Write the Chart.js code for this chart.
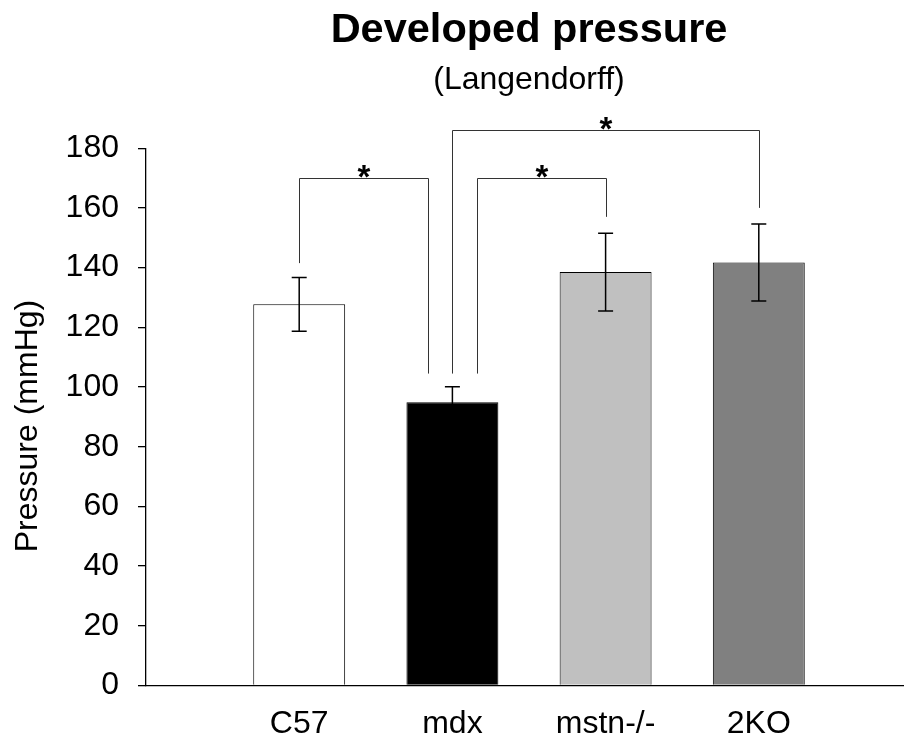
<!DOCTYPE html>
<html>
<head>
<meta charset="utf-8">
<title>Developed pressure</title>
<script src="https://cdn.jsdelivr.net/npm/chart.js@4.4.1/dist/chart.umd.min.js"></script>
<style>
    html, body { margin: 0; padding: 0; background: #fff; overflow: hidden; }
    #chart { display: block; }
</style>
</head>
<body>
<!-- wider than the window: the x axis runs on past the right edge -->
<canvas id="chart" width="931" height="738"></canvas>
<script>
// groups and measured values (mean +/- error)
var groups = ['C57', 'mdx', 'mstn-/-', '2KO'];
var pressure = [127.7, 94.9, 138.5, 141.7];
var errors = [9.0, 5.2, 13.0, 12.9];
var barColors = ['#ffffff', '#000000', '#c0c0c0', '#808080'];
var yTicks = [0, 20, 40, 60, 80, 100, 120, 140, 160, 180];

// significance brackets (x in category positions, y in mmHg)
var bracketFrom = [1, 2.16, 2];
var bracketTo = [1.84, 3, 4];
var bracketTop = [170, 170, 186];
var legFromBottom = [141.5, 104.5, 104.5];
var legToBottom = [104.5, 157, 160];

var FONT = "'Liberation Sans', Arial, Helvetica, sans-serif";

// empty slot on each side so the bars sit one category in from the axis
var labels = [''].concat(groups).concat(['']);
var values = [null].concat(pressure).concat([null]);
var colors = ['#fff'].concat(barColors).concat(['#fff']);

var errorBars = {
    id: 'errorBars',
    afterDatasetsDraw: function (chart) {
        var ctx = chart.ctx;
        var x = chart.scales.x, y = chart.scales.y;
        ctx.save();
        ctx.strokeStyle = '#000';
        ctx.lineWidth = 1.5;
        pressure.forEach(function (v, i) {
            var px = x.getPixelForValue(i + 1);
            var top = y.getPixelForValue(v + errors[i]);
            var bot = y.getPixelForValue(v - errors[i]);
            ctx.beginPath();
            ctx.moveTo(px, top); ctx.lineTo(px, bot);
            ctx.moveTo(px - 7.5, top); ctx.lineTo(px + 7.5, top);
            ctx.moveTo(px - 7.5, bot); ctx.lineTo(px + 7.5, bot);
            ctx.stroke();
        });
        ctx.restore();
    }
};

var brackets = {
    id: 'brackets',
    afterDatasetsDraw: function (chart) {
        var ctx = chart.ctx;
        var x = chart.scales.x, y = chart.scales.y;
        ctx.save();
        ctx.strokeStyle = '#333';
        ctx.lineWidth = 1;
        ctx.fillStyle = '#000';
        ctx.font = 'bold 33px ' + FONT;
        ctx.textAlign = 'center';
        ctx.textBaseline = 'middle';
        for (var i = 0; i < bracketFrom.length; i++) {
            var x1 = Math.round(x.getPixelForValue(bracketFrom[i])) + 0.5;
            var x2 = Math.round(x.getPixelForValue(bracketTo[i])) + 0.5;
            var yt = Math.round(y.getPixelForValue(bracketTop[i])) + 0.5;
            ctx.beginPath();
            ctx.moveTo(x1, y.getPixelForValue(legFromBottom[i]));
            ctx.lineTo(x1, yt);
            ctx.lineTo(x2, yt);
            ctx.lineTo(x2, y.getPixelForValue(legToBottom[i]));
            ctx.stroke();
            ctx.fillText('*', (x1 + x2) / 2, yt);
        }
        ctx.restore();
    }
};

// rotated y-axis title
var yTitle = {
    id: 'yTitle',
    afterDraw: function (chart) {
        var ctx = chart.ctx;
        ctx.save();
        ctx.translate(28, 426);
        ctx.rotate(-Math.PI / 2);
        ctx.font = '32px ' + FONT;
        ctx.fillStyle = '#000';
        ctx.textAlign = 'center';
        ctx.textBaseline = 'middle';
        ctx.fillText('Pressure (mmHg)', 0, 0);
        ctx.restore();
    }
};

new Chart(document.getElementById('chart'), {
    type: 'bar',
    data: {
        labels: labels,
        datasets: [{
            data: values,
            backgroundColor: colors,
            borderColor: '#000',
            borderWidth: 1,
            borderSkipped: 'bottom',
            barPercentage: 0.6,
            categoryPercentage: 1
        }]
    },
    options: {
        responsive: false,
        animation: false,
        layout: { padding: 0 },
        plugins: {
            legend: { display: false },
            tooltip: { enabled: false },
            title: {
                display: true,
                text: 'Developed pressure',
                fullSize: false,
                color: '#000',
                font: { family: FONT, size: 41.5, weight: 'bold', lineHeight: 1.2 },
                padding: { top: 6, bottom: 0 }
            },
            subtitle: {
                display: true,
                text: '(Langendorff)',
                fullSize: false,
                color: '#000',
                font: { family: FONT, size: 32, lineHeight: 1.2 },
                padding: { top: 5, bottom: 49 }
            }
        },
        scales: {
            x: {
                type: 'category',
                offset: false,
                grid: { display: false, drawTicks: false },
                border: { display: true, color: '#000', width: 1.3 },
                ticks: {
                    color: '#000',
                    font: { family: FONT, size: 32 },
                    padding: 19,
                    maxRotation: 0,
                    autoSkip: false
                },
                afterFit: function (s) { s.height = 52.5; }
            },
            y: {
                min: 0,
                max: 180,
                afterBuildTicks: function (s) {
                    s.ticks = yTicks.map(function (v) { return { value: v }; });
                },
                grid: {
                    drawOnChartArea: false,
                    drawTicks: true,
                    tickLength: 8,
                    color: '#000',
                    lineWidth: 1.3
                },
                border: { display: true, color: '#000', width: 1.3 },
                ticks: {
                    color: '#000',
                    font: { family: FONT, size: 32 },
                    padding: 19
                },
                afterFit: function (s) { s.width = 146; }
            }
        }
    },
    plugins: [errorBars, brackets, yTitle]
});
</script>
</body>
</html>
